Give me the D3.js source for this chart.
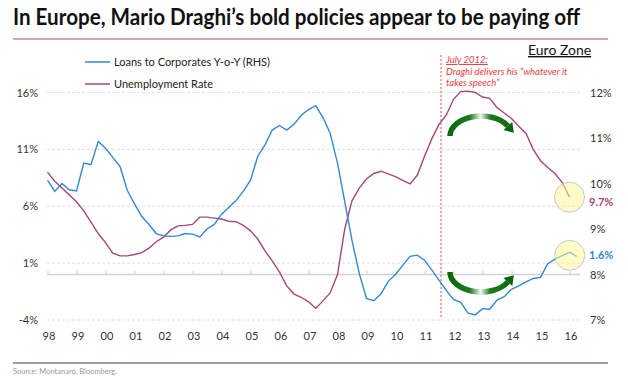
<!DOCTYPE html>
<html>
<head>
<meta charset="utf-8">
<script src="https://cdn.jsdelivr.net/npm/d3@7"></script>
<style>
  body { margin: 0; background: #fff; }
  svg { display: block; font-family: Lato, "Open Sans", sans-serif; }
</style>
</head>
<body>
<svg id="chart"></svg>
<script>
// Quarterly readings, first point = Q1 1998
const startYear = 1998;

// Loans to corporates, y-o-y % (left scale)
const loans = [
  8.3, 7.3, 8.0, 7.45, 7.35, 9.8, 9.65, 11.7,
  11.1, 10.3, 9.5, 7.4, 6.2, 5.1, 4.4, 3.6,
  3.4, 3.35, 3.4, 3.6, 3.55, 3.3, 4.0, 4.4,
  5.3, 5.9, 6.5, 7.3, 8.3, 10.4, 11.4, 12.7,
  13.1, 12.7, 13.2, 14.0, 14.5, 14.85, 13.8, 12.4,
  9.8, 6.4, 3.0, 0.1, -2.1, -2.3, -1.7, -0.6,
  0.0, 0.8, 1.6, 1.7, 1.25, 0.4, -0.5, -1.4,
  -2.2, -2.45, -3.4, -3.55, -3.0, -3.05, -2.25, -1.95,
  -1.3, -1.0, -0.65, -0.35, -0.25, 0.95, 1.35, 1.65,
  1.95, 1.6
];

// Unemployment rate % (right scale)
const unemployment = [
  10.25, 10.05, 9.9, 9.75, 9.6, 9.4, 9.15, 8.9,
  8.7, 8.47, 8.41, 8.41, 8.44, 8.48, 8.58, 8.72,
  8.82, 8.98, 9.07, 9.08, 9.1, 9.26, 9.26, 9.24,
  9.22, 9.17, 9.16, 9.08, 8.96, 8.78, 8.52, 8.3,
  8.05, 7.75, 7.57, 7.5, 7.4, 7.26, 7.42, 7.6,
  8.0, 9.0, 9.62, 9.9, 10.1, 10.22, 10.27, 10.21,
  10.15, 10.07, 9.99, 10.18, 10.6, 10.98, 11.3, 11.5,
  11.85, 12.02, 12.03, 12.0, 11.9, 11.87, 11.67, 11.55,
  11.43, 11.26, 11.1, 10.75, 10.5, 10.35, 10.22, 10.02,
  9.7
];

const yearTicks = d3.range(1998, 2017);
const leftTicks = [-4, 1, 6, 11, 16];
const rightTicks = [7, 8, 9, 10, 11, 12];
const speechDate = 2011.57;

const width = 628, height = 376;
const blue = '#3388d4', plum = '#a3497a';

const svg = d3.select('#chart')
  .attr('width', width)
  .attr('height', height);

const x = d3.scaleLinear().domain([1998, 2016]).range([47.5, 569.5]);
const yL = d3.scaleLinear().domain([-4, 16]).range([320, 92.5]);
const yR = d3.scaleLinear().domain([7, 12]).range([320, 92.5]);

const loanPts = loans.map((v, i) => ({ t: startYear + i * 0.25, v }));
const unempPts = unemployment.map((v, i) => ({ t: startYear + i * 0.25, v }));

// Title and rules
svg.append('text')
  .attr('x', 13).attr('y', 25)
  .attr('font-size', 22).attr('font-weight', 700)
  .attr('fill', '#111')
  .attr('textLength', 567).attr('lengthAdjust', 'spacingAndGlyphs')
  .text('In Europe, Mario Draghi\u2019s bold policies appear to be paying off');

svg.append('line')
  .attr('x1', 13).attr('x2', 608).attr('y1', 39).attr('y2', 39)
  .attr('stroke', '#cc84aa').attr('stroke-width', 1.5);

svg.append('line')
  .attr('x1', 13).attr('x2', 608).attr('y1', 363).attr('y2', 363)
  .attr('stroke', '#7f7f7f').attr('stroke-width', 1.5);

svg.append('text')
  .attr('x', 13).attr('y', 374)
  .attr('font-size', 7.5).attr('fill', '#9a9a9a')
  .text('Source:  Montanaro, Bloomberg.');

// Gridlines + left axis
const grid = svg.append('g');
grid.selectAll('line')
  .data(leftTicks)
  .enter().append('line')
  .attr('x1', 47).attr('x2', 580)
  .attr('y1', d => yL(d)).attr('y2', d => yL(d))
  .attr('stroke', '#dedede').attr('stroke-dasharray', '3,2');

svg.append('g')
  .attr('transform', 'translate(40,0)')
  .call(d3.axisLeft(yL).tickValues(leftTicks).tickSize(0).tickPadding(2).tickFormat(d => d + '%'))
  .call(g => g.select('.domain').remove())
  .call(g => g.selectAll('text').attr('font-size', 11).attr('fill', '#333').attr('font-family', 'Lato, sans-serif'));

svg.append('g')
  .attr('transform', 'translate(588,0)')
  .call(d3.axisRight(yR).tickValues(rightTicks).tickSize(0).tickPadding(2).tickFormat(d => d + '%'))
  .call(g => g.select('.domain').remove())
  .call(g => g.selectAll('text').attr('font-size', 11).attr('fill', '#333').attr('font-family', 'Lato, sans-serif'));

// x axis at 0% on the left scale
svg.append('g')
  .attr('transform', `translate(0,${yL(0)})`)
  .call(d3.axisTop(x).tickValues(yearTicks).tickSize(4).tickFormat(''))
  .call(g => g.select('.domain').attr('d', `M47,0H580`).attr('stroke', '#d4d4d4').attr('stroke-width', 1.5))
  .call(g => g.selectAll('.tick line').attr('stroke', '#d4d4d4'));

svg.append('g')
  .selectAll('text')
  .data(yearTicks)
  .enter().append('text')
  .attr('x', d => x(d) + 1.5)
  .attr('y', 340)
  .attr('text-anchor', 'middle')
  .attr('font-size', 11).attr('fill', '#333')
  .text(d => String(d).slice(2));

// Speech marker
svg.append('line')
  .attr('x1', x(speechDate)).attr('x2', x(speechDate))
  .attr('y1', 55).attr('y2', 318)
  .attr('stroke', '#f04a4a').attr('stroke-dasharray', '2,2').attr('stroke-width', 1);

const note = svg.append('text')
  .attr('font-size', 9.5).attr('font-style', 'italic').attr('fill', '#f03c3c');
note.append('tspan').attr('x', x(speechDate) + 5).attr('y', 63)
  .attr('text-decoration', 'underline').text('July 2012:');
note.append('tspan').attr('x', x(speechDate) + 5).attr('y', 74.5)
  .text('Draghi delivers his \u201cwhatever it');
note.append('tspan').attr('x', x(speechDate) + 5).attr('y', 86)
  .text('takes speech\u201d');

svg.append('text')
  .attr('x', 528).attr('y', 55)
  .attr('font-size', 14).attr('fill', '#111')
  .attr('text-decoration', 'underline')
  .text('Euro Zone');

// Lines
const lineL = d3.line().x(d => x(d.t)).y(d => yL(d.v));
const lineR = d3.line().x(d => x(d.t)).y(d => yR(d.v));

svg.append('path').datum(unempPts)
  .attr('d', lineR).attr('fill', 'none')
  .attr('stroke', plum).attr('stroke-width', 1.4);

svg.append('path').datum(loanPts)
  .attr('d', lineL).attr('fill', 'none')
  .attr('stroke', blue).attr('stroke-width', 1.4);

// Legend
const legend = svg.append('g');
[['Loans to Corporates Y-o-Y (RHS)', blue, 62], ['Unemployment Rate', plum, 84]].forEach(([label, c, ly]) => {
  legend.append('line')
    .attr('x1', 85).attr('x2', 110).attr('y1', ly).attr('y2', ly)
    .attr('stroke', c).attr('stroke-width', 1.5);
  legend.append('text')
    .attr('x', 114).attr('y', ly + 4)
    .attr('font-size', 11).attr('fill', '#222')
    .text(label);
});

// Green curved arrows
const defs = svg.append('defs');
const grad = defs.append('linearGradient')
  .attr('id', 'greenFade')
  .attr('gradientUnits', 'userSpaceOnUse')
  .attr('x1', 448).attr('x2', 516).attr('y1', 0).attr('y2', 0);
[[0, '#0b650b'], [0.32, '#1c7a1c'], [0.48, '#eef6ee'], [0.62, '#1c7a1c'], [1, '#0b650b']]
  .forEach(([o, c]) => grad.append('stop').attr('offset', o).attr('stop-color', c));

function curvedArrow(cy, dir) {
  const cx = 481, rx = 31, ry = 20;
  const a = Math.PI / 6;
  const ex = cx + rx * Math.cos(a), ey = cy - dir * ry * Math.sin(a);
  svg.append('path')
    .attr('d', `M${cx - rx},${cy} A${rx},${ry} 0 0 ${dir > 0 ? 1 : 0} ${ex},${ey}`)
    .attr('fill', 'none').attr('stroke', 'url(#greenFade)').attr('stroke-width', 5.5);
  // arrowhead along the tangent
  let tx = rx * Math.sin(a), ty = dir * ry * Math.cos(a);
  const len = Math.hypot(tx, ty); tx /= len; ty /= len;
  const px = -ty, py = tx;
  const tip = [ex + tx * 9, ey + ty * 9];
  const b1 = [ex + px * 6, ey + py * 6];
  const b2 = [ex - px * 6, ey - py * 6];
  svg.append('path')
    .attr('d', `M${tip}L${b1}L${b2}Z`)
    .attr('fill', '#0b650b');
}
curvedArrow(136, 1);
curvedArrow(272, -1);

// Highlight circles and end labels
const lastL = loanPts[loanPts.length - 1];
const lastR = unempPts[unempPts.length - 1];

svg.append('circle')
  .attr('cx', x(lastR.t)).attr('cy', yR(lastR.v)).attr('r', 15)
  .attr('fill', '#fdf89a').attr('fill-opacity', 0.55)
  .attr('stroke', '#c8c8c8').attr('stroke-width', 1);
svg.append('circle')
  .attr('cx', x(lastL.t) - 7).attr('cy', yL(lastL.v) - 1).attr('r', 15)
  .attr('fill', '#fdf89a').attr('fill-opacity', 0.55)
  .attr('stroke', '#c8c8c8').attr('stroke-width', 1);

svg.append('text')
  .attr('x', 589).attr('y', yR(lastR.v) + 9)
  .attr('font-size', 11).attr('font-weight', 700).attr('fill', plum)
  .text(lastR.v + '%');
svg.append('text')
  .attr('x', 589).attr('y', yL(lastL.v) + 3)
  .attr('font-size', 11).attr('font-weight', 700).attr('fill', blue)
  .text(lastL.v + '%');
</script>
</body>
</html>
